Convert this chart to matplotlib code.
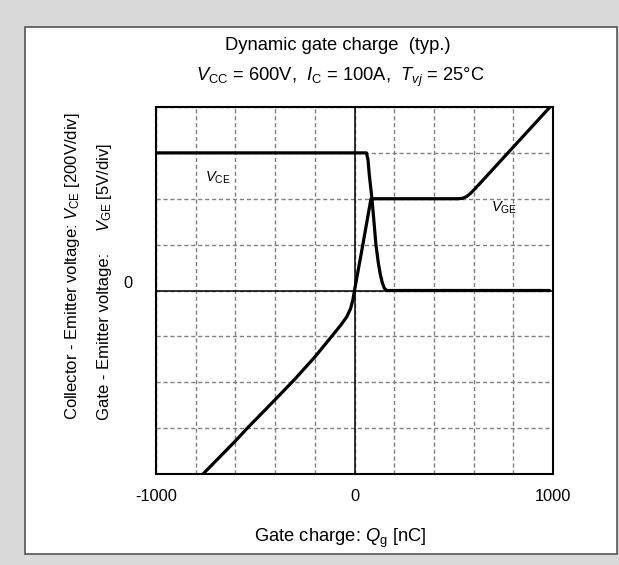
import matplotlib
matplotlib.use("Agg")
import matplotlib.pyplot as plt
from matplotlib.patches import Rectangle
from matplotlib.transforms import ScaledTranslation

plt.rcParams["font.family"] = ["Liberation Sans", "DejaVu Sans"]
plt.rcParams["mathtext.fontset"] = "custom"
plt.rcParams["mathtext.rm"] = "Liberation Sans"
plt.rcParams["mathtext.it"] = "Liberation Sans:italic"

# gate charge [nC] vs voltage in divisions (V_CE: 200V/div, V_GE: 5V/div)
vge_q = [-763, -600, -540, -400, -300, -200, -115, -70, -40, -20, -8, 0, 40, 83,
         520, 545, 565, 585, 610, 773, 985]
vge_div = [-4.0, -3.28, -3.0, -2.38, -1.93, -1.45, -1.0, -0.76, -0.58, -0.4, -0.2, 0.0, 0.95, 2.0,
           2.0, 2.01, 2.05, 2.12, 2.23, 3.0, 4.0]

vce_q = [-1000, 60, 68, 75, 88, 108, 120, 130, 140, 150, 163, 980]
vce_div = [3.0, 3.0, 2.85, 2.5, 2.0, 1.0, 0.6, 0.35, 0.17, 0.05, 0.0, 0.0]

x_ticks = list(range(-1000, 1001, 200))
x_labels = ["-1000" if t == -1000 else "0" if t == 0 else "1000" if t == 1000 else "" for t in x_ticks]
y_ticks = list(range(-4, 5))
y_labels = ["0" if t == 0 else "" for t in y_ticks]

fig = plt.figure(figsize=(6.19, 5.65), dpi=100)
fig.patch.set_facecolor("#d9d9d9")

# white panel with border
panel = Rectangle((25 / 619, 1 - 554 / 565), (617 - 25) / 619, (554 - 27) / 565,
                  transform=fig.transFigure, facecolor="white", edgecolor="#555555",
                  lw=1.2, zorder=-5)
fig.patches.append(panel)

ax = fig.add_axes([156 / 619, 1 - 474 / 565, 397 / 619, 367 / 565], zorder=2)
ax.set_xlim(-1000, 1000)
ax.set_ylim(-4, 4)
ax.set_xticks(x_ticks)
ax.set_xticklabels(x_labels)
ax.set_yticks(y_ticks)
ax.set_yticklabels(y_labels)
ax.tick_params(length=0, labelsize=11.8)
ax.tick_params(axis="x", pad=11)
ax.tick_params(axis="y", pad=17)
for lbl in ax.get_yticklabels():
    lbl.set_transform(lbl.get_transform() + ScaledTranslation(0, 8 / 100, fig.dpi_scale_trans))

ax.grid(True, color="#808080", linestyle=(0, (3, 2)), lw=1)
ax.axhline(0, color="black", lw=1.1, zorder=2)
ax.axvline(0, color="black", lw=1.1, zorder=2)
for s in ax.spines.values():
    s.set_linewidth(1.5)

ax.plot(vce_q, vce_div, color="black", lw=2.3, zorder=3, solid_joinstyle="round")
ax.plot(vge_q, vge_div, color="black", lw=2.3, zorder=3, solid_joinstyle="round")

ax.text(-691, 2.45, r"$V_{\mathrm{CE}}$", fontsize=10.5, ha="center", va="center")
ax.text(753, 1.80, r"$V_{\mathrm{GE}}$", fontsize=10.5, ha="center", va="center")

fig.text(338 / 619, 1 - 45 / 565, "Dynamic gate charge  (typ.)", fontsize=13.2,
         ha="center", va="center")
fig.text(340 / 619, 1 - 77 / 565,
         r"$V_{\mathrm{CC}}$ = 600V,  $I_{\mathrm{C}}$ = 100A,  $T_{vj}$ = 25°C",
         fontsize=13.2, ha="center", va="center")

fig.text(340 / 619, 1 - 538 / 565, r"Gate charge: $Q_{\mathrm{g}}$ [nC]", fontsize=13.2,
         ha="center", va="center")

fig.text(73 / 619, 1 - 420 / 565,
         r"Collector - Emitter voltage: $V_{\mathrm{CE}}$ [200V/div]",
         rotation=90, fontsize=12, ha="center", va="bottom")
fig.text(104 / 619, 1 - 420 / 565, "Gate - Emitter voltage:",
         rotation=90, fontsize=12, ha="center", va="bottom")
fig.text(104 / 619, 1 - 232 / 565, r"$V_{\mathrm{GE}}$ [5V/div]",
         rotation=90, fontsize=12, ha="center", va="bottom")

fig.savefig("out.png", dpi=100, facecolor=fig.get_facecolor())
